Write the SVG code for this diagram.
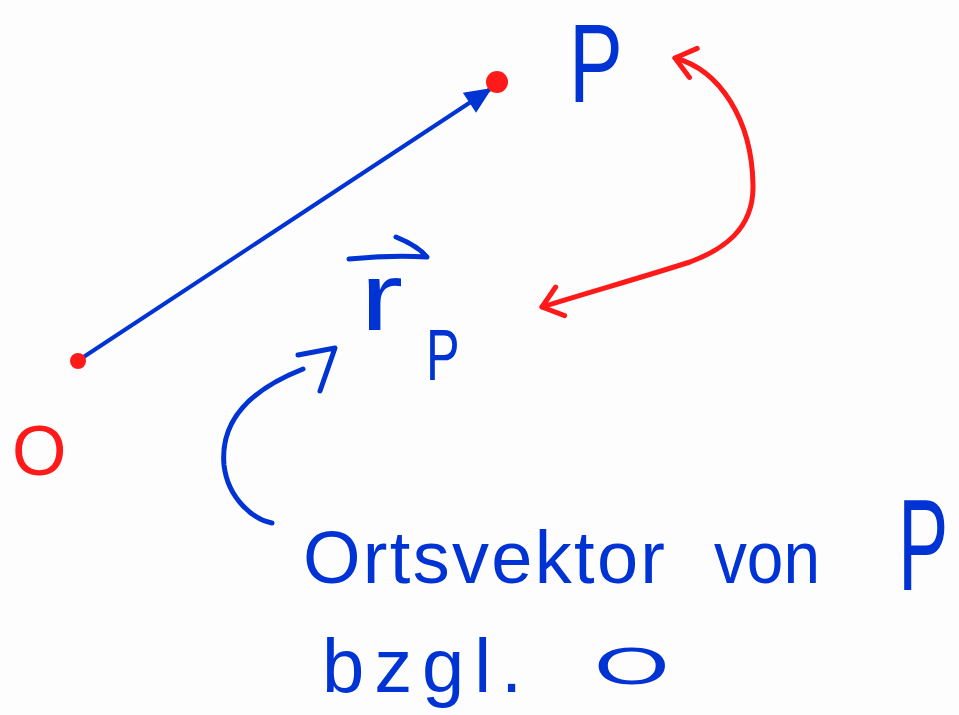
<svg xmlns="http://www.w3.org/2000/svg" width="959" height="715" viewBox="0 0 959 715">
  <style>
    .bg { fill: #fdfdfd; }
    .blue { fill: #0033d4; font-family: "Liberation Sans", Arial, sans-serif; }
    .red { fill: #ff1a1a; font-family: "Liberation Sans", Arial, sans-serif; }
    .bstroke { fill: none; stroke: #0033d4; stroke-width: 5; stroke-linecap: round; stroke-linejoin: round; }
    .rstroke { fill: none; stroke: #ff1a1a; stroke-width: 5; stroke-linecap: round; stroke-linejoin: round; }
  </style>
  <defs>
    <marker id="fillHead" markerUnits="userSpaceOnUse" viewBox="-30 -15 32 30" refX="0" refY="0" markerWidth="32" markerHeight="30" orient="auto" overflow="visible">
      <path d="M0,0 L-27,-12 L-27,12 Z" fill="#0033d4"/>
    </marker>
    <marker id="openRed" markerUnits="userSpaceOnUse" viewBox="-30 -20 40 40" refX="0" refY="0" markerWidth="40" markerHeight="40" orient="auto-start-reverse" overflow="visible">
      <path d="M-19,-15 L0,0 L-19,15" fill="none" stroke="#ff1a1a" stroke-width="5" stroke-linecap="round" stroke-linejoin="round"/>
    </marker>
  </defs>
  <rect class="bg" x="0" y="0" width="959" height="715"/>

  <g id="connectors">
    <path id="vector-OP" class="bstroke" style="stroke-width:4" d="M79,360 L492,88" marker-end="url(#fillHead)"/>
    <path id="red-double-arrow" class="rstroke" d="M675,58 C720,70 752,120 753,185 C754,230 722,250 690,262 C640,278 590,292 542,307" marker-start="url(#openRed)" marker-end="url(#openRed)"/>
    <g id="blue-curved-arrow">
      <path class="bstroke" d="M272,523 C255,520 228,500 224,465 C220,420 250,390 303,369"/>
      <path class="bstroke" d="M298,355 L335,348 L320,391"/>
    </g>
  </g>

  <g id="point-O">
    <circle cx="78" cy="361" r="8" fill="#ff1a1a"/>
    <text class="red" x="12" y="475" font-size="70">O</text>
  </g>

  <g id="point-P">
    <circle cx="497" cy="82" r="11" fill="#ff1a1a"/>
    <text class="blue" transform="translate(569,102) scale(0.72,1)" x="0" y="0" font-size="112">P</text>
  </g>

  <g id="label-rp">
    <path class="bstroke" d="M349,259 Q390,255 427,257 Q418,246 396,237"/>
    <text class="blue" transform="translate(360,330) scale(1.35,1)" x="0" y="0" font-size="96">r</text>
    <text class="blue" transform="translate(426,380) scale(0.7,1)" x="0" y="0" font-size="72">P</text>
  </g>

  <g id="annotation">
    <text class="blue" x="303" y="583" font-size="74" textLength="362" lengthAdjust="spacing">Ortsvektor</text>
    <text class="blue" x="714" y="583" font-size="74" textLength="106" lengthAdjust="spacingAndGlyphs">von</text>
    <text class="blue" transform="translate(898,590) scale(0.58,1)" x="0" y="0" font-size="130">P</text>
    <text class="blue" x="322" y="692" font-size="76" textLength="200" lengthAdjust="spacing">bzgl.</text>
    <text class="blue" transform="translate(594,684) scale(1.8,0.95)" x="0" y="0" font-size="54">O</text>
  </g>
</svg>
